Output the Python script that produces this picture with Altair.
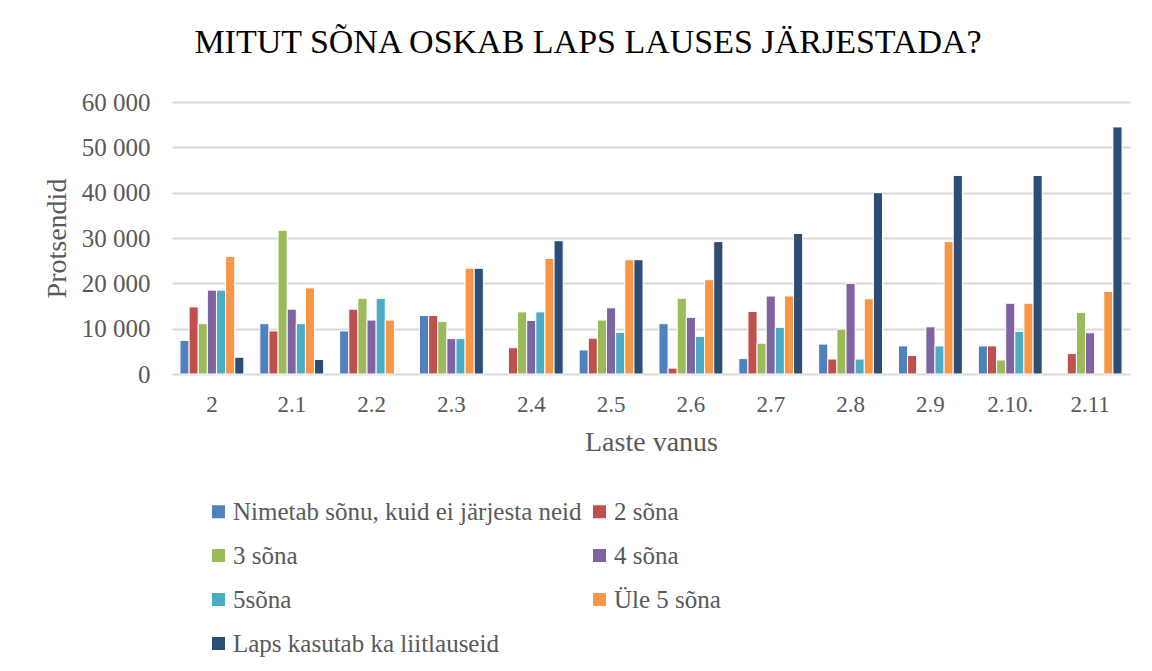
import altair as alt
import pandas as pd

categories = ["2", "2.1", "2.2", "2.3", "2.4", "2.5", "2.6", "2.7", "2.8", "2.9", "2.10.", "2.11"]
series_names = ["Nimetab sõnu, kuid ei järjesta neid", "2 sõna", "3 sõna", "4 sõna",
                "5sõna", "Üle 5 sõna", "Laps kasutab ka liitlauseid"]
colors = ["#4F81BD", "#C0504D", "#9BBB59", "#8064A2", "#4BACC6", "#F79646", "#2C4D75"]

nimetab = [7.4, 11.1, 9.5, 12.9, None, 5.3, 11.1, 3.4, 6.6, 6.2, 6.2, None]
sona2 = [14.8, 9.5, 14.3, 12.9, 5.8, 7.9, 1.3, 13.8, 3.3, 4.1, 6.2, 4.5]
sona3 = [11.1, 31.7, 16.7, 11.6, 13.7, 11.9, 16.7, 6.8, 9.9, None, 3.1, 13.6]
sona4 = [18.5, 14.3, 11.9, 7.8, 11.8, 14.6, 12.5, 17.2, 20.0, 10.4, 15.6, 9.1]
sona5 = [18.5, 11.1, 16.7, 7.8, 13.7, 9.2, 8.3, 10.3, 3.3, 6.2, 9.4, None]
ule5 = [25.9, 19.0, 11.9, 23.3, 25.5, 25.2, 20.8, 17.2, 16.6, 29.2, 15.6, 18.2]
liitlaused = [3.7, 3.2, None, 23.3, 29.4, 25.2, 29.2, 31.0, 40.0, 43.8, 43.8, 54.5]

all_series = [nimetab, sona2, sona3, sona4, sona5, ule5, liitlaused]

rows = []
for name, vals in zip(series_names, all_series):
    for cat, v in zip(categories, vals):
        if v is not None:
            rows.append({"vanus": cat, "seeria": name, "vaartus": v * 1000})
df = pd.DataFrame(rows)

FONT = "Liberation Serif"
GRAY = "#595959"

chart = alt.Chart(df).mark_bar(stroke="white", strokeWidth=1).encode(
    x=alt.X("vanus:N", sort=categories, title="Laste vanus",
            scale=alt.Scale(paddingInner=0.2, paddingOuter=0.1),
            axis=alt.Axis(labelAngle=0, ticks=False, domain=False, labelPadding=19,
                          labelFontSize=23, titleFontSize=28, titlePadding=12)),
    xOffset=alt.XOffset("seeria:N", sort=series_names, scale=alt.Scale(paddingInner=0, paddingOuter=0)),
    y=alt.Y("vaartus:Q", title="Protsendid",
            scale=alt.Scale(domain=[0, 60000], nice=False),
            axis=alt.Axis(values=[0, 10000, 20000, 30000, 40000, 50000, 60000],
                          labelExpr="replace(format(datum.value, ','), ',', ' ')",
                          ticks=False, domain=False, labelPadding=22,
                          labelFontSize=25, titleFontSize=28, titlePadding=10,
                          gridColor="#d9d9d9", gridWidth=2)),
    color=alt.Color("seeria:N", sort=series_names,
                    scale=alt.Scale(domain=series_names, range=colors),
                    legend=alt.Legend(title=None, orient="none", legendX=34, legendY=397,
                                      direction="horizontal", columns=2, columnPadding=5,
                                      rowPadding=18,
                                      symbolType="square", symbolSize=169, symbolStrokeWidth=0,
                                      labelFontSize=25, labelOffset=2, labelLimit=700)),
).properties(
    width=958, height=272,
    title=alt.TitleParams("MITUT SÕNA OSKAB LAPS LAUSES JÄRJESTADA?", font=FONT, fontSize=34,
                          fontWeight="normal", color="#000000", anchor="middle", dx=-63, offset=30),
    autosize=alt.AutoSizeParams(type="none"),
    padding={"left": 164, "top": 94, "right": 14, "bottom": 292},
).configure(font=FONT).configure_axis(
    labelColor=GRAY, titleColor=GRAY, labelFont=FONT, titleFont=FONT, titleFontWeight="normal"
).configure_legend(labelColor=GRAY, labelFont=FONT).configure_view(stroke=None)

chart.save("out.html", embed_options={"renderer": "svg", "actions": False})
